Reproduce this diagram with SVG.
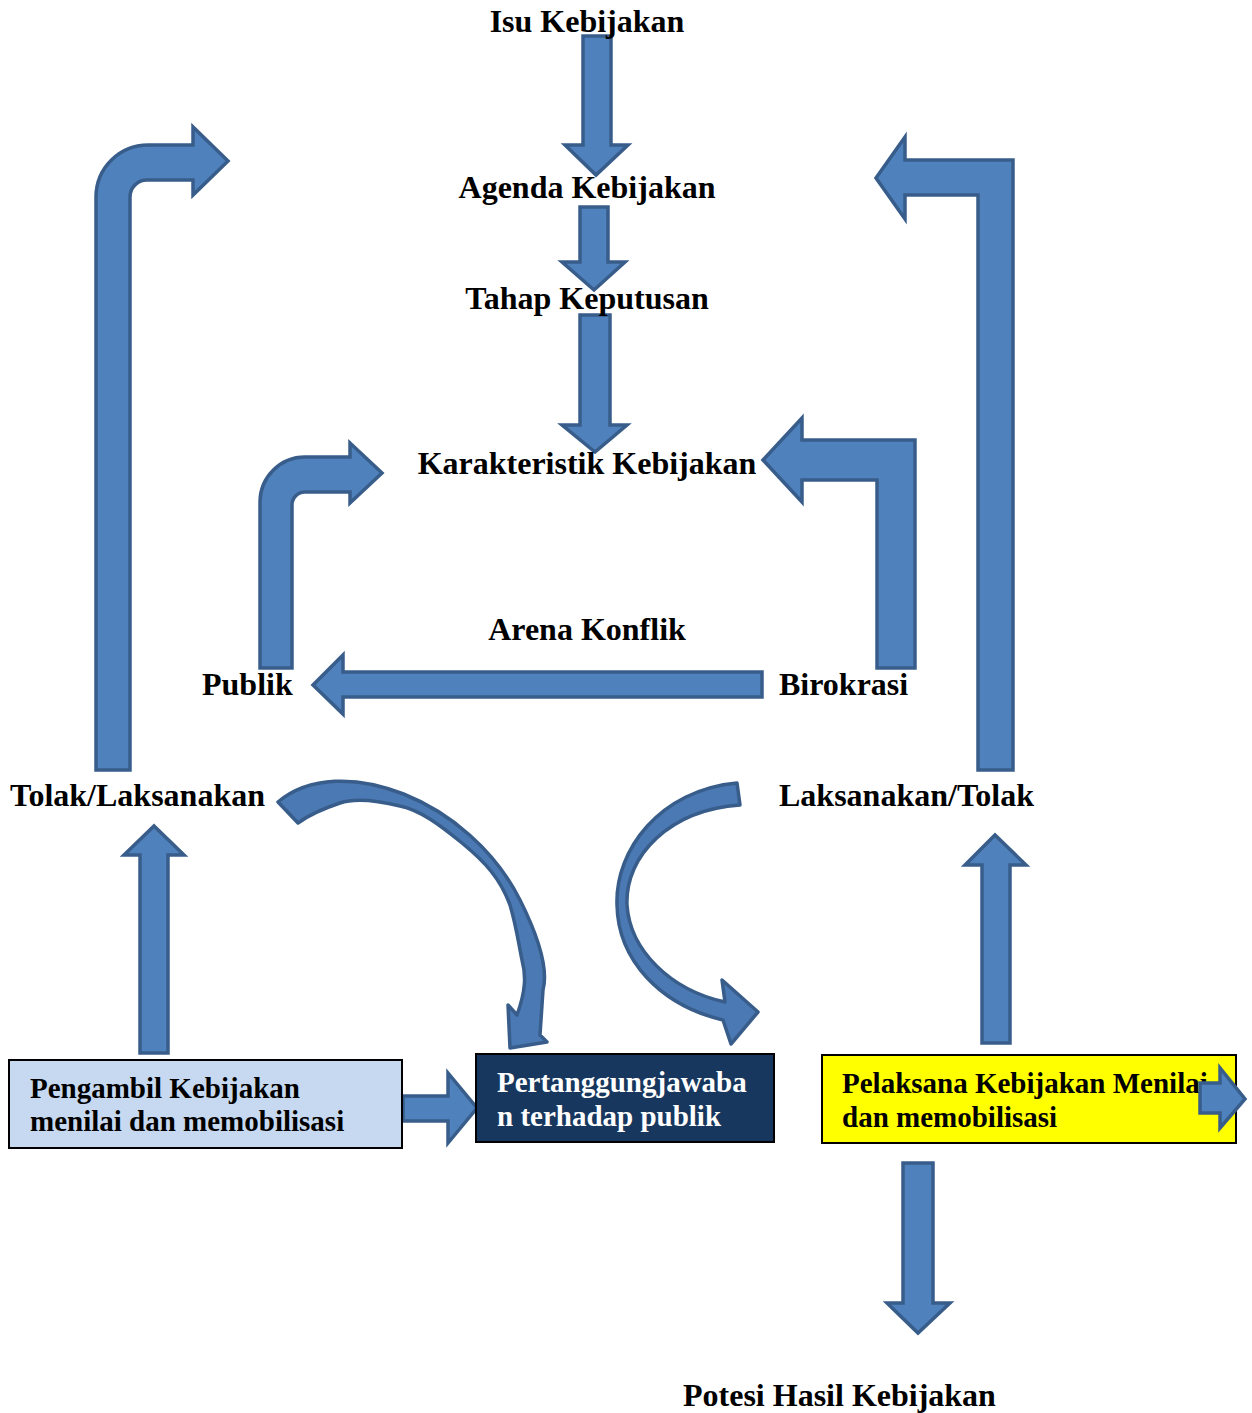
<svg xmlns="http://www.w3.org/2000/svg" width="1252" height="1413" viewBox="0 0 1252 1413">
<style>
.arr{fill:#4f81bd;stroke:#385d8a;stroke-width:3.5;stroke-linejoin:miter}
.carr{fill:#4a79b4;stroke:#385d8a;stroke-width:3.5;stroke-linejoin:round}
.lbl{font-family:"Liberation Serif","Times New Roman",serif;font-weight:bold;font-size:32px;fill:#000}
.bt{font-family:"Liberation Serif","Times New Roman",serif;font-weight:bold;font-size:29px}
.box{stroke:#000;stroke-width:2}
</style>
<rect width="1252" height="1413" fill="#fff"/>
<g id="connectors">
<path class="arr" d="M583,36 L611,36 L611,145 L628,145 L596,175 L565,145 L583,145 Z"/>
<path class="arr" d="M580,207 L608,207 L608,262 L625,262 L594,290 L562,262 L580,262 Z"/>
<path class="arr" d="M580,315 L610,315 L610,425 L627,425 L595,452 L562,425 L580,425 Z"/>
<path class="arr" d="M96,770 L96,197 A52,52 0 0 1 148,145 L193,145 L193,127 L228,161 L193,195 L193,180 L147,180 A17,17 0 0 0 130,197 L130,770 Z"/>
<path class="arr" d="M1013,770 L1013,160 L905,160 L905,137 L876,178 L905,219 L905,195 L978,195 L978,770 Z"/>
<path class="arr" d="M260,668 L260,502 A45,45 0 0 1 305,457 L350,457 L350,443 L382,473 L350,503 L350,492 L305,492 A13,13 0 0 0 292,505 L292,668 Z"/>
<path class="arr" d="M915,668 L915,440 L802,440 L802,418 L763,460 L802,502 L802,480 L877,480 L877,668 Z"/>
<path class="arr" d="M762,672 L343,672 L343,655 L313,685 L343,714 L343,697 L762,697 Z"/>
<path class="arr" d="M140,1053 L140,855 L124,855 L154,826 L184,855 L168,855 L168,1053 Z"/>
<path class="arr" d="M982,1043 L982,865 L965,865 L995,835 L1026,865 L1010,865 L1010,1043 Z"/>
<path class="arr" d="M903,1163 L933,1163 L933,1303 L950,1303 L918,1333 L887,1303 L903,1303 Z"/>
<path class="arr" d="M403,1096 L448,1096 L448,1073 L477,1108 L448,1143 L448,1121 L403,1121 Z"/>
<path class="carr" d="M278,802 C340,750 470,800 520,900 C545,950 547,975 543,990 L540,1035 L547,1042 L510,1048 L508,1005 L517,1015 C526,990 526,975 522,960 C518,940 516,925 510,905 C500,878 485,862 462,843 C440,825 420,810 400,806 C375,800 355,798 340,803 C325,808 310,814 298,823 Z"/>
<path class="carr" d="M737,783 C660,790 615,850 617,905 C618,960 660,1005 723,1020 L731,1044 L758,1012 L722,980 L725,1002 C670,990 630,950 627,905 C625,855 670,810 740,805 Z"/>
</g>
<g id="isu"><text class="lbl" x="587" y="32" text-anchor="middle">Isu Kebijakan</text></g>
<g id="agenda"><text class="lbl" x="587" y="198" text-anchor="middle">Agenda Kebijakan</text></g>
<g id="tahap"><text class="lbl" x="587" y="309" text-anchor="middle">Tahap Keputusan</text></g>
<g id="karakteristik"><text class="lbl" x="587" y="474" text-anchor="middle">Karakteristik Kebijakan</text></g>
<g id="arena"><text class="lbl" x="587" y="640" text-anchor="middle">Arena Konflik</text></g>
<g id="publik"><text class="lbl" x="202" y="695">Publik</text></g>
<g id="birokrasi"><text class="lbl" x="779" y="695">Birokrasi</text></g>
<g id="tolak"><text class="lbl" x="10" y="806">Tolak/Laksanakan</text></g>
<g id="laksanakan"><text class="lbl" x="779" y="806">Laksanakan/Tolak</text></g>
<g id="pengambil">
<rect class="box" x="9" y="1060" width="393" height="88" fill="#c6d9f1"/>
<text class="bt" x="30" y="1098" fill="#000">Pengambil Kebijakan</text>
<text class="bt" x="30" y="1131" fill="#000">menilai dan memobilisasi</text>
</g>
<g id="pertanggungjawaban">
<rect class="box" x="476" y="1054" width="298" height="88" fill="#17375e"/>
<text class="bt" x="497" y="1092" fill="#fff">Pertanggungjawaba</text>
<text class="bt" x="497" y="1126" fill="#fff">n terhadap publik</text>
</g>
<g id="pelaksana">
<rect class="box" x="822" y="1055" width="414" height="88" fill="#ffff00"/>
<text class="bt" x="842" y="1093" fill="#000">Pelaksana Kebijakan Menilai</text>
<text class="bt" x="842" y="1127" fill="#000">dan memobilisasi</text>
<path class="arr" d="M1200,1083 L1220,1083 L1220,1068 L1245,1099 L1220,1128 L1220,1113 L1200,1113 Z"/>
</g>
<g id="potesi"><text class="lbl" x="683" y="1406">Potesi Hasil Kebijakan</text></g>
</svg>
